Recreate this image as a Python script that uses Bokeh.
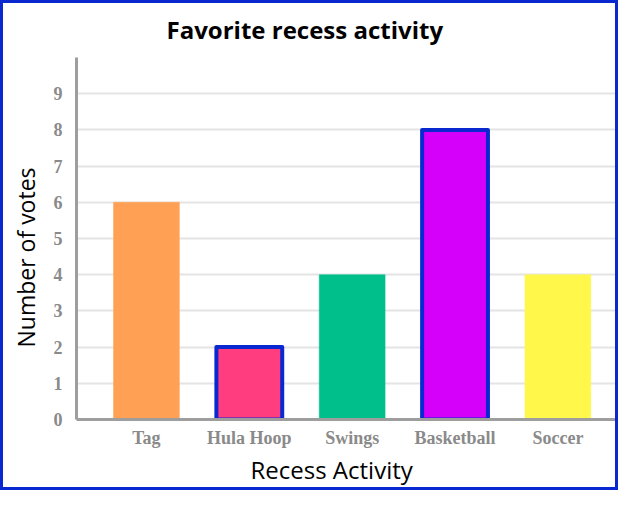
from bokeh.plotting import figure
from bokeh.models import Range1d, FixedTicker, ColumnDataSource, Title
from bokeh.embed import file_html
from bokeh.resources import INLINE

categories = ["Tag", "Hula Hoop", "Swings", "Basketball", "Soccer"]
votes = [6, 2, 4, 8, 4]
fill_colors = ["#FFA055", "#FF3D7F", "#00BF8A", "#D500F9", "#FFF84A"]
line_colors = ["#FFA055", "#0A28D0", "#00BF8A", "#0A28D0", "#FFF84A"]
line_widths = [0.5, 4, 0.5, 4, 0.5]
y_ticks = [0, 1, 2, 3, 4, 5, 6, 7, 8, 9, 10]
y_tick_labels = {10: ""}
title_text = "Favorite recess activity"
x_title = "Recess Activity"
y_title = "Number of votes"

xpos = list(range(len(categories)))
src = ColumnDataSource(dict(x=xpos, top=votes, fill=fill_colors,
                            line=line_colors, lw=line_widths))

p = figure(width=618, height=490, output_backend="svg", toolbar_location=None,
           x_range=Range1d(-0.68, 4.56), y_range=Range1d(0, 10),
           min_border_left=73, min_border_right=6, min_border_top=54,
           min_border_bottom=74, title=title_text)
p.styles = {"border": "3px solid #0A28D0"}
p.outline_line_color = None

p.vbar(x="x", top="top", width=0.64, bottom=0, fill_color="fill",
       line_color="line", line_width="lw", line_join="round", source=src)

p.title.text_font = "Open Sans"
p.title.text_font_size = "24px"
p.title.text_font_style = "bold"
p.title.text_color = "#000000"
p.title.align = "left"
p.title.vertical_align = "top"
p.title.text_line_height = 0.7
p.title.offset = 90
p.title.standoff = 19

p.xaxis.ticker = FixedTicker(ticks=xpos)
p.xaxis.major_label_overrides = {i: c for i, c in enumerate(categories)}
p.yaxis.ticker = FixedTicker(ticks=y_ticks)
p.yaxis.major_label_overrides = y_tick_labels

for ax in (p.xaxis[0], p.yaxis[0]):
    ax.axis_line_color = "#9E9E9E"
    ax.axis_line_width = 3
    ax.major_tick_line_color = None
    ax.minor_tick_line_color = None
    ax.major_label_text_font = "Liberation Serif"
    ax.major_label_text_font_style = "bold"
    ax.major_label_text_font_size = "18px"
    ax.major_label_text_color = "#8A8A8A"

p.yaxis.major_label_standoff = 8
p.xaxis.major_label_standoff = 2

yt = Title(text=y_title, align="left", offset=72, standoff=13,
           vertical_align="top",
           text_font="Open Sans", text_font_size="23px",
           text_font_style="normal", text_color="#000000")
p.add_layout(yt, "left")
xt = Title(text=x_title, align="left", offset=174, standoff=0,
           text_font="Open Sans", text_font_size="24px",
           text_font_style="normal", text_color="#000000")
p.add_layout(xt, "below")

p.xgrid.grid_line_color = None
p.ygrid.grid_line_color = "#E4E4E4"
p.ygrid.grid_line_width = 2
p.ygrid.ticker = FixedTicker(ticks=y_ticks)

open("out.html", "w").write(file_html(p, INLINE))
